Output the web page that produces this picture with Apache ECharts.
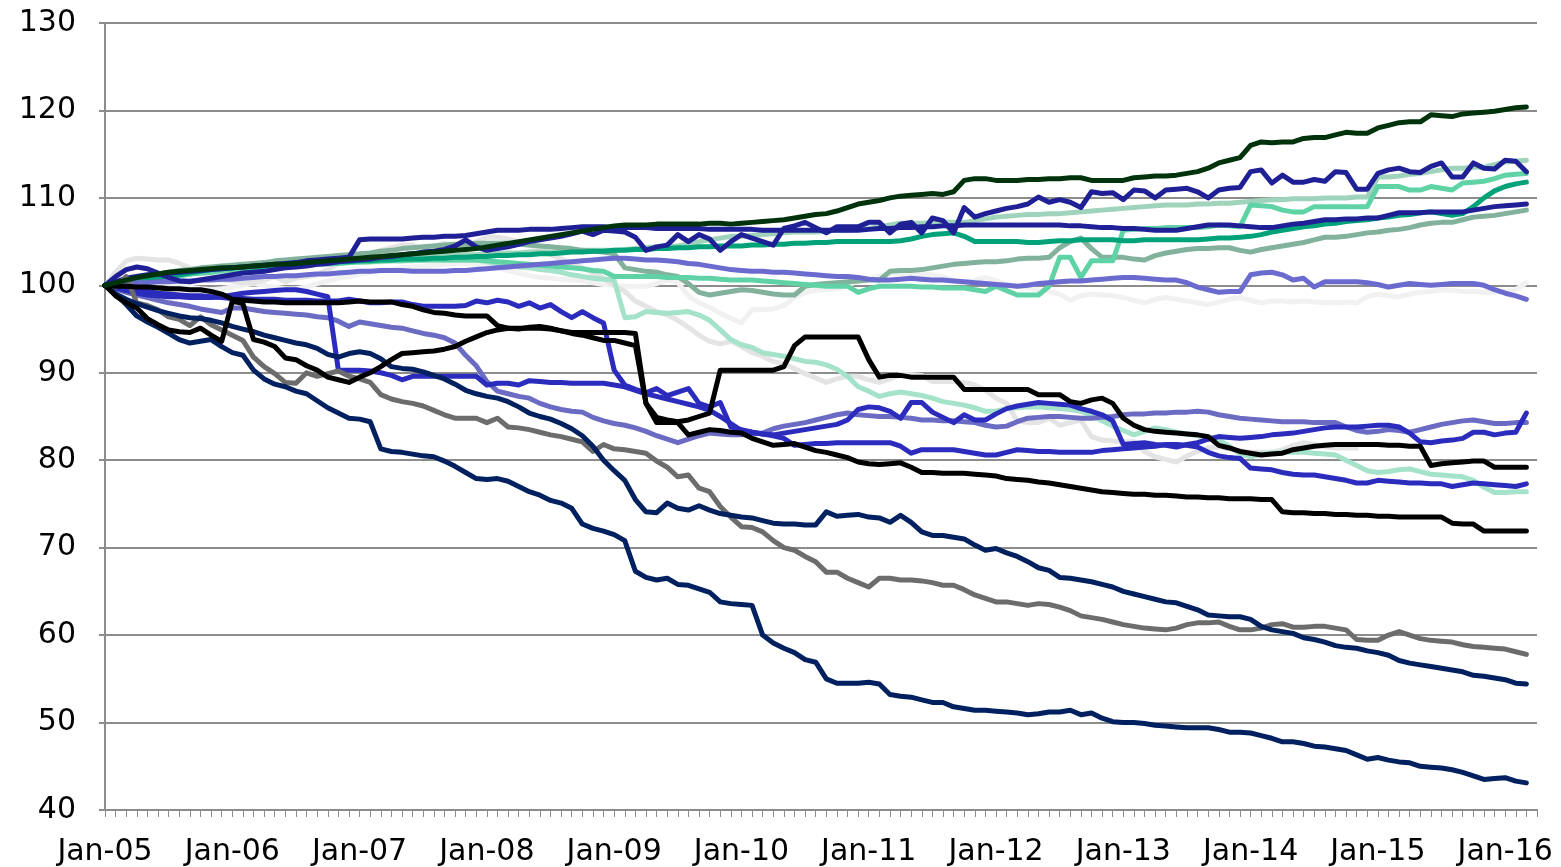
<!DOCTYPE html>
<html><head><meta charset="utf-8">
<script src="https://cdn.jsdelivr.net/npm/echarts@6/dist/echarts.min.js"></script>
<style>html,body{margin:0;padding:0;background:#fff}#c{width:1561px;height:867px}</style>
</head><body><div id="c"></div>
<script>
const MONTHS=["Jan","Feb","Mar","Apr","May","Jun","Jul","Aug","Sep","Oct","Nov","Dec"];
const YEARS=["05","06","07","08","09","10","11","12","13","14","15","16"];
const categories=[];
for(const y of YEARS){for(const m of MONTHS){if(categories.length<136)categories.push(m+"-"+y);}}

const darkGreen=[100,100.3,100.6,100.9,101.1,101.3,101.5,101.6,101.7,101.8,101.9,102.0,
102.0,102.1,102.2,102.3,102.4,102.4,102.5,102.6,102.7,102.8,102.9,103.0,
103.1,103.2,103.3,103.4,103.5,103.6,103.7,103.8,103.9,104.0,104.1,104.2,
104.4,104.6,104.8,105.0,105.2,105.4,105.6,105.8,106.0,106.2,106.4,106.6,
106.8,106.9,106.9,106.9,107.0,107.0,107.0,107.0,107.0,107.1,107.1,107.0,
107.1,107.2,107.3,107.4,107.5,107.7,107.9,108.1,108.2,108.5,108.9,109.3,
109.5,109.7,110.0,110.2,110.3,110.4,110.5,110.4,110.7,112.0,112.2,112.2,
112.0,112.0,112.0,112.1,112.1,112.2,112.2,112.3,112.3,112.0,112.0,112.0,
112.0,112.3,112.4,112.5,112.5,112.6,112.8,113.0,113.4,114.0,114.3,114.6,
116.0,116.4,116.3,116.4,116.4,116.8,116.9,116.9,117.2,117.5,117.4,117.4,
118.0,118.3,118.6,118.7,118.7,119.5,119.4,119.3,119.6,119.7,119.8,119.9,
120.1,120.3,120.4];

const indigoZig=[100,101.0,101.8,102.1,101.9,101.4,100.9,100.5,100.4,100.6,100.8,101.0,
101.2,101.4,101.5,101.6,101.8,102.0,102.1,102.2,102.4,102.5,102.7,102.8,
102.9,103.0,103.2,103.3,103.5,103.6,103.8,103.9,104.1,104.5,105.2,104.4,
104.0,104.2,104.4,104.7,105.0,105.2,105.4,105.6,105.9,106.2,105.8,106.3,
106.2,106.1,105.5,104.0,104.4,104.6,105.8,105.0,105.8,105.3,104.0,105.0,
105.8,105.4,105.0,104.6,106.5,106.8,107.2,106.6,106.0,106.7,106.7,106.7,
107.2,107.2,106.0,107.0,107.2,106.0,107.7,107.4,106.0,108.9,107.8,108.2,
108.5,108.8,109.0,109.3,110.1,109.5,109.8,109.5,108.9,110.7,110.5,110.6,
109.8,110.9,110.8,110.0,110.9,111.0,111.1,110.7,110.0,110.9,111.1,111.2,
113.0,113.2,111.7,112.6,111.8,111.8,112.1,111.9,113.0,112.9,111.0,111.0,
112.8,113.2,113.4,113.0,112.9,113.6,114.0,112.4,112.4,114.0,113.4,113.3,
114.3,114.2,113.0];

const indigoSmooth=[100,100.4,100.8,101.0,101.2,101.3,101.4,101.5,101.6,101.7,101.8,101.9,
102.0,102.1,102.2,102.3,102.4,102.5,102.6,102.8,102.9,103.0,103.1,103.2,
105.2,105.3,105.3,105.3,105.3,105.4,105.5,105.5,105.6,105.6,105.7,105.9,
106.1,106.3,106.3,106.3,106.4,106.4,106.4,106.5,106.6,106.7,106.7,106.7,
106.6,106.6,106.6,106.6,106.5,106.5,106.5,106.5,106.5,106.4,106.4,106.4,
106.4,106.4,106.3,106.3,106.3,106.3,106.3,106.3,106.3,106.3,106.3,106.3,
106.4,106.5,106.5,106.6,106.6,106.7,106.7,106.8,106.8,106.9,106.9,106.9,
106.9,106.9,106.9,106.9,106.9,106.9,106.9,106.8,106.8,106.7,106.6,106.6,
106.5,106.5,106.4,106.3,106.3,106.3,106.5,106.7,106.9,106.9,106.9,106.8,
106.7,106.6,106.6,106.8,107.0,107.1,107.3,107.5,107.5,107.6,107.6,107.7,
107.7,108.0,108.3,108.3,108.3,108.4,108.4,108.4,108.4,108.6,108.8,109.0,
109.1,109.2,109.3];

const teal=[100,100.2,100.4,100.6,100.8,100.9,101.0,101.2,101.4,101.6,101.8,101.9,
102.0,102.1,102.1,102.2,102.3,102.3,102.4,102.5,102.5,102.6,102.7,102.7,
102.8,102.8,102.9,102.9,103.0,103.0,103.0,103.1,103.1,103.2,103.2,103.3,
103.3,103.4,103.4,103.5,103.5,103.6,103.6,103.7,103.8,103.8,103.9,103.9,
104.0,104.0,104.1,104.1,104.2,104.2,104.3,104.3,104.4,104.4,104.5,104.5,
104.5,104.6,104.6,104.7,104.7,104.8,104.8,104.9,104.9,105.0,105.0,105.0,
105.0,105.0,105.0,105.1,105.3,105.6,105.8,105.9,106.0,105.6,105.0,105.0,
105.0,105.0,105.0,104.9,104.9,105.0,105.1,105.1,105.2,105.2,105.2,105.2,
105.1,105.1,105.2,105.2,105.2,105.2,105.2,105.2,105.3,105.4,105.4,105.5,
105.6,105.8,106.1,106.3,106.5,106.7,106.8,107.0,107.1,107.3,107.4,107.5,
107.7,107.8,108.0,108.1,108.3,108.4,108.2,108.0,108.2,109.0,110.0,110.8,
111.3,111.6,111.8];

const mint=[100,100.2,100.4,100.6,100.7,100.9,101.0,101.1,101.3,101.4,101.5,101.7,
101.8,101.9,102.0,102.1,102.1,102.2,102.3,102.3,102.4,102.5,102.5,102.6,
102.7,102.7,102.8,102.8,102.8,102.9,102.9,102.9,102.9,102.9,102.9,102.9,
102.8,102.7,102.6,102.5,102.4,102.3,102.2,102.1,102.0,101.9,101.7,101.6,
101.0,101.0,101.0,101.0,101.0,100.9,100.9,100.9,100.8,100.8,100.7,100.6,
100.6,100.6,100.5,100.4,100.3,100.2,100.1,100.0,99.9,99.9,99.9,99.2,
99.6,99.9,99.9,99.9,99.9,99.8,99.8,99.7,99.7,99.7,99.5,99.3,
99.9,99.4,98.9,98.9,98.9,99.9,103.2,103.2,100.9,102.8,102.8,102.8,
106.3,106.4,106.5,106.5,106.6,106.6,106.6,106.6,106.7,106.9,106.8,106.7,
109.2,109.1,109.0,108.6,108.4,108.4,109.0,109.0,109.0,109.0,109.0,109.0,
111.3,111.3,111.3,110.9,110.9,111.3,111.1,110.9,111.7,111.8,111.9,112.2,
112.6,112.7,112.8];

const paleGreen=[100,100.2,100.4,100.6,100.8,100.9,101.0,101.2,101.3,101.5,101.6,101.8,
101.9,102.0,102.1,102.2,102.3,102.4,102.5,102.6,102.7,102.7,102.8,102.9,
103.0,103.0,103.1,103.1,103.2,103.2,103.3,103.3,103.4,103.4,103.5,103.5,
103.6,103.6,103.7,103.7,103.8,103.8,103.8,103.9,103.9,104.0,104.0,104.0,
104.0,104.1,104.2,104.3,104.4,104.4,104.5,104.7,105.0,105.2,105.4,105.6,
105.6,105.7,105.8,105.9,106.0,106.1,106.1,106.1,106.2,106.3,106.3,106.4,
106.5,106.7,106.9,107.1,107.1,107.1,107.2,107.2,107.2,107.2,107.4,107.6,
107.8,107.9,108.0,108.1,108.1,108.2,108.2,108.3,108.4,108.5,108.6,108.7,
108.8,108.9,109.0,109.1,109.2,109.2,109.2,109.3,109.3,109.4,109.4,109.5,
109.6,109.7,109.8,109.8,109.9,109.9,109.9,110.0,110.0,110.0,110.1,110.1,
112.4,112.4,112.5,112.7,112.8,113.0,113.2,113.4,113.4,113.5,113.5,113.8,
114.1,114.2,114.3];

const grayGreen=[100,100.3,100.6,100.9,101.1,101.3,101.5,101.7,101.8,102.0,102.1,102.2,
102.3,102.4,102.5,102.6,102.8,102.9,103.0,103.1,103.2,103.3,103.4,103.5,
103.6,103.7,103.9,104.0,104.2,104.3,104.4,104.5,104.6,104.7,104.7,104.8,
104.8,104.8,104.8,104.7,104.6,104.5,104.4,104.3,104.2,104.0,103.9,103.8,
103.6,102.0,101.8,101.6,101.5,101.2,101.0,100.2,99.2,98.9,99.1,99.3,
99.5,99.4,99.2,99.0,98.9,98.9,99.9,100.1,100.2,100.3,100.4,100.5,
100.6,100.6,101.6,101.7,101.7,101.8,102.0,102.2,102.4,102.5,102.6,102.7,
102.7,102.8,103.0,103.1,103.1,103.2,104.3,105.0,105.4,104.2,103.2,103.2,
103.2,103.0,102.9,103.4,103.7,103.9,104.1,104.2,104.2,104.3,104.3,104.0,
103.8,104.1,104.3,104.5,104.7,104.9,105.2,105.5,105.5,105.6,105.8,106.0,
106.1,106.3,106.4,106.6,106.9,107.1,107.2,107.2,107.5,107.8,107.9,108.0,
108.2,108.4,108.6];

const lightMint=[100,100.2,100.4,100.6,100.8,100.9,101.0,101.1,101.3,101.4,101.5,101.6,
101.7,101.8,101.9,102.0,102.0,102.1,102.2,102.3,102.4,102.4,102.5,102.6,
102.6,102.7,102.7,102.8,102.8,102.8,102.9,102.9,102.9,102.9,102.9,102.9,
102.7,102.5,102.3,102.1,102.0,101.8,101.7,101.5,101.2,101.0,100.8,100.7,
100.6,96.3,96.4,97.0,96.9,96.8,96.9,97.0,96.6,96.0,94.9,93.8,
93.2,92.9,92.3,92.1,91.9,91.6,91.3,91.2,90.9,90.4,89.6,88.4,
87.9,87.3,87.6,87.8,87.6,87.4,87.1,86.7,86.5,86.3,86.0,85.6,
85.6,85.9,86.0,86.1,86.1,86.0,85.9,85.8,85.6,85.2,84.5,83.9,
83.4,82.9,83.3,83.7,83.5,83.2,83.0,82.8,82.7,82.3,81.6,80.7,
80.4,80.7,80.8,80.9,80.9,80.9,80.8,80.7,80.6,80.0,79.4,78.8,
78.6,78.7,78.9,79.0,78.7,78.4,78.3,78.2,78.1,77.7,76.9,76.3,
76.3,76.4,76.4];

const lightGray=[100,101.5,102.8,103.1,103.0,102.9,102.9,102.5,102.0,101.4,101.0,100.6,
100.5,100.3,100.3,100.6,101.0,100.4,100.8,101.0,101.2,101.8,102.5,103.0,
103.3,103.6,104.0,104.3,104.6,104.6,104.0,104.5,104.8,104.5,104.3,105.0,
105.5,105.5,105.3,105.0,104.6,104.2,103.5,103.0,102.5,102.0,101.4,100.8,
100.0,99.3,98.2,97.6,97.0,96.6,96.0,95.2,94.3,93.6,93.3,93.6,
93.0,92.3,91.9,91.3,91.0,90.5,89.9,89.4,88.9,89.3,89.6,89.6,
89.2,88.9,89.3,89.8,89.8,89.7,89.0,89.0,89.0,88.9,88.6,88.0,
87.1,86.5,84.5,84.3,84.3,84.8,84.0,84.3,84.6,82.7,82.3,82.2,
82.1,82.1,81.0,80.4,80.1,79.8,80.5,81.0,81.4,81.5,81.3,81.1,
80.9,80.9,80.9,81.2,81.7,82.0,81.8,81.5,81.4,81.4,81.4];

const whitish=[100,100.5,101.0,101.2,100.8,100.4,100.2,100.0,99.8,99.6,99.5,99.6,
99.8,100.0,100.2,100.0,99.8,99.6,99.6,99.8,100.2,100.5,100.8,101.0,
101.3,101.5,101.7,101.8,102.0,102.1,102.2,102.3,102.4,102.5,102.5,102.4,
102.2,102.0,101.7,101.4,101.1,100.9,100.8,100.7,100.6,100.5,100.3,100.1,
100.0,99.9,99.9,99.9,100.2,100.6,100.3,98.8,98.0,97.5,96.8,96.2,
95.7,97.2,97.2,97.3,97.7,98.6,99.2,99.4,99.5,99.6,100.0,100.5,
100.8,101.0,101.4,101.3,101.2,101.2,101.2,101.0,100.6,100.3,100.6,100.9,
100.5,100.1,99.9,99.7,99.5,99.3,99.0,98.3,98.8,99.0,98.9,98.8,
98.6,98.3,98.0,98.4,98.6,98.4,98.2,98.0,97.8,98.1,98.4,98.6,
98.3,98.0,98.2,98.2,98.1,98.2,98.1,98.0,98.0,98.1,98.0,98.7,
99.0,98.8,98.7,99.0,99.2,99.3,99.5,99.4,99.3,99.3,99.2,99.2,
99.3,99.5,100.3];

const blackA=[100,98.8,98.0,97.4,96.2,95.5,94.9,94.7,94.6,95.1,94.3,93.6,
98.2,97.9,93.8,93.5,93.0,91.7,91.5,90.8,90.3,89.5,89.2,88.9,
89.5,90.0,90.7,91.5,92.2,92.3,92.4,92.5,92.7,93.0,93.6,94.1,
94.6,94.9,95.1,95.0,95.2,95.3,95.1,94.8,94.6,94.6,94.6,94.6,
94.6,94.6,94.5,86.5,84.9,84.6,84.4,84.6,85.0,85.4,90.3,90.3,
90.3,90.3,90.3,90.3,90.7,93.1,94.1,94.1,94.1,94.1,94.1,94.1,
91.5,89.5,89.7,89.7,89.5,89.5,89.5,89.5,89.5,88.1,88.1,88.1,
88.1,88.1,88.1,88.1,87.5,87.5,87.5,86.7,86.5,86.9,87.1,86.5,
84.8,84.0,83.5,83.3,83.2,83.1,83.0,82.9,82.7,81.7,81.4,81.0,
80.8,80.6,80.7,80.8,81.2,81.4,81.6,81.7,81.8,81.8,81.8,81.8,
81.8,81.7,81.7,81.6,81.6,79.4,79.6,79.7,79.8,79.9,79.9,79.2,
79.2,79.2,79.2];

const blackB=[100,99.9,99.9,99.8,99.8,99.7,99.6,99.6,99.5,99.5,99.3,99.0,
98.4,98.3,98.2,98.1,98.1,98.0,98.0,98.0,98.0,98.0,98.0,98.1,
98.2,98.1,98.1,98.1,97.8,97.6,97.2,96.9,96.8,96.6,96.5,96.5,
96.5,95.4,95.1,95.1,95.1,95.1,95.0,94.8,94.5,94.3,94.0,93.7,
93.7,93.4,93.1,86.5,84.3,84.3,84.3,82.9,83.2,83.5,83.4,83.2,
83.1,82.5,82.1,81.7,81.8,81.9,81.5,81.1,80.9,80.6,80.3,79.8,
79.6,79.5,79.6,79.7,79.2,78.6,78.6,78.5,78.5,78.5,78.4,78.3,
78.2,77.9,77.8,77.7,77.5,77.4,77.2,77.0,76.8,76.6,76.4,76.3,
76.2,76.1,76.1,76.0,76.0,75.9,75.8,75.8,75.7,75.7,75.6,75.6,
75.6,75.5,75.5,74.1,74.0,74.0,73.9,73.9,73.8,73.8,73.7,73.7,
73.6,73.6,73.5,73.5,73.5,73.5,73.5,72.8,72.7,72.7,71.9,71.9,
71.9,71.9,71.9];

const gray=[100,99.8,101.0,98.0,97.7,97.2,96.4,96.1,95.4,96.4,95.5,94.9,
94.3,93.7,91.8,90.7,89.9,88.9,88.8,90.0,89.6,89.9,90.2,89.6,
89.3,88.9,87.5,87.0,86.7,86.5,86.2,85.7,85.2,84.8,84.8,84.8,
84.3,84.8,83.8,83.7,83.5,83.2,82.9,82.7,82.4,82.1,81.0,81.8,
81.3,81.2,81.0,80.8,79.9,79.2,78.1,78.3,76.8,76.4,74.7,73.5,
72.4,72.3,71.8,70.8,70.0,69.7,69.0,68.4,67.2,67.2,66.5,66.0,
65.5,66.5,66.5,66.3,66.3,66.2,66.0,65.7,65.7,65.2,64.6,64.2,
63.8,63.8,63.6,63.4,63.6,63.5,63.2,62.8,62.2,62.0,61.8,61.5,
61.2,61.0,60.8,60.7,60.6,60.8,61.2,61.4,61.4,61.5,61.0,60.6,
60.6,60.8,61.2,61.3,60.9,60.9,61.0,61.0,60.8,60.6,59.5,59.4,
59.4,60.0,60.4,60.0,59.6,59.4,59.3,59.2,58.9,58.7,58.6,58.5,
58.4,58.1,57.8];

const navyUpper=[100,99.0,98.4,97.9,97.5,97.1,96.8,96.5,96.3,96.2,96.0,95.7,
95.3,95.0,94.7,94.3,94.0,93.7,93.4,93.2,92.8,92.1,91.8,92.2,
92.4,92.2,91.6,90.7,90.5,90.4,90.1,89.7,89.3,88.7,88.0,87.6,
87.3,87.1,86.7,86.1,85.4,85.0,84.7,84.2,83.6,82.8,81.6,80.0,
78.8,77.7,75.5,74.1,74.0,75.1,74.5,74.3,74.8,74.3,73.9,73.7,
73.5,73.4,73.1,72.8,72.7,72.7,72.6,72.6,74.1,73.6,73.7,73.8,
73.5,73.4,72.9,73.7,72.9,71.8,71.4,71.4,71.2,71.0,70.3,69.7,
69.9,69.4,69.0,68.4,67.7,67.4,66.6,66.5,66.3,66.1,65.8,65.5,
65.0,64.7,64.4,64.1,63.8,63.7,63.3,62.9,62.3,62.2,62.1,62.1,
61.8,61.0,60.6,60.4,60.2,59.7,59.5,59.2,58.8,58.6,58.5,58.2,
58.0,57.7,57.1,56.8,56.6,56.4,56.2,56.0,55.8,55.4,55.3,55.1,
54.9,54.5,54.4];

const navyLower=[100,99.0,97.8,96.5,95.8,95.2,94.5,93.8,93.4,93.6,93.8,93.0,
92.3,92.0,90.3,89.3,88.7,88.4,87.9,87.6,86.8,86.0,85.4,84.8,
84.7,84.4,81.3,81.0,80.9,80.7,80.5,80.4,79.9,79.3,78.6,77.9,
77.8,77.9,77.6,77.0,76.4,76.0,75.4,75.1,74.5,72.7,72.2,71.9,
71.5,70.8,67.3,66.6,66.3,66.5,65.8,65.7,65.3,64.9,63.8,63.6,
63.5,63.4,60.0,59.1,58.5,58.0,57.2,56.9,55.0,54.5,54.5,54.5,
54.6,54.4,53.2,53.0,52.9,52.6,52.3,52.3,51.8,51.6,51.4,51.4,
51.3,51.2,51.1,50.9,51.0,51.2,51.2,51.4,50.9,51.1,50.5,50.1,
50.0,50.0,49.9,49.7,49.6,49.5,49.4,49.4,49.4,49.2,48.9,48.9,
48.8,48.5,48.2,47.8,47.8,47.6,47.3,47.2,47.0,46.8,46.3,45.8,
46.0,45.7,45.5,45.4,45.0,44.9,44.8,44.6,44.3,43.9,43.5,43.6,
43.7,43.3,43.1];

const lavLower=[100,99.6,99.2,98.9,98.6,98.3,98.0,97.8,97.6,97.3,97.1,96.9,
97.4,97.4,97.2,97.0,96.9,96.8,96.7,96.6,96.4,96.3,95.9,95.3,
95.8,95.6,95.4,95.2,95.1,94.8,94.5,94.3,94.0,93.4,92.0,90.8,
89.0,87.9,87.6,87.3,87.1,86.5,86.1,85.8,85.6,85.5,84.9,84.5,
84.2,84.0,83.7,83.3,82.8,82.4,82.0,82.4,82.8,83.1,83.0,82.9,
82.9,83.0,83.1,83.6,83.9,84.1,84.3,84.6,84.9,85.2,85.4,85.2,
85.1,85.0,85.0,84.9,84.8,84.6,84.6,84.5,84.5,84.4,84.3,84.0,
83.8,83.9,84.4,84.8,84.9,85.0,85.0,84.9,84.8,84.8,84.9,85.0,
85.2,85.3,85.3,85.4,85.4,85.5,85.5,85.6,85.5,85.2,85.0,84.8,
84.7,84.6,84.5,84.4,84.4,84.4,84.3,84.3,84.3,83.8,83.4,83.2,
83.3,83.5,83.4,83.2,83.5,83.8,84.1,84.3,84.5,84.6,84.4,84.2,
84.2,84.3,84.3];

const lavUpper=[100,100.1,100.2,100.3,100.3,100.4,100.4,100.5,100.5,100.6,100.6,100.7,
100.7,100.8,100.9,101.0,101.0,101.1,101.1,101.2,101.3,101.3,101.4,101.5,
101.6,101.6,101.7,101.7,101.7,101.6,101.6,101.6,101.6,101.7,101.7,101.8,
101.9,102.0,102.1,102.2,102.3,102.4,102.5,102.6,102.7,102.8,102.9,103.0,
103.1,103.1,103.0,102.9,102.9,102.8,102.7,102.5,102.4,102.2,102.0,101.8,
101.7,101.6,101.6,101.5,101.5,101.4,101.3,101.2,101.1,101.0,101.0,100.9,
100.7,100.6,100.6,100.7,100.8,100.7,100.6,100.6,100.5,100.4,100.3,100.2,
100.1,100.0,99.9,100.0,100.2,100.3,100.4,100.5,100.5,100.6,100.7,100.8,
100.9,100.9,100.8,100.7,100.6,100.6,100.3,99.8,99.5,99.2,99.3,99.3,
101.2,101.4,101.5,101.2,100.6,100.8,99.8,100.4,100.4,100.4,100.4,100.3,
100.1,99.8,100.0,100.2,100.1,100.0,100.1,100.2,100.2,100.2,100.0,99.5,
99.1,98.8,98.4];

const blueA=[100,99.7,99.4,99.1,98.9,98.8,98.7,98.7,98.6,98.6,98.6,98.7,
98.9,99.1,99.2,99.3,99.4,99.5,99.5,99.3,99.0,98.7,90.3,90.3,
90.3,90.2,90.0,89.7,89.2,89.6,89.6,89.6,89.6,89.6,89.6,89.6,
88.6,88.8,88.8,88.6,89.1,89.0,88.9,88.9,88.8,88.8,88.8,88.8,
88.6,88.4,88.0,87.6,87.3,87.0,86.7,86.4,86.1,85.7,85.0,84.2,
83.4,83.2,83.0,82.8,82.5,81.7,81.8,81.9,81.9,82.0,82.0,82.0,
82.0,82.0,82.0,81.6,80.8,81.2,81.2,81.2,81.2,81.0,80.8,80.6,
80.6,80.9,81.2,81.1,81.0,81.0,80.9,80.9,80.9,80.9,81.1,81.2,
81.3,81.4,81.5,81.6,81.8,81.8,81.7,81.5,80.9,80.5,80.3,80.2,
79.1,79.0,78.9,78.6,78.4,78.3,78.3,78.1,77.9,77.7,77.4,77.4,
77.7,77.6,77.5,77.4,77.4,77.3,77.3,77.0,77.2,77.4,77.3,77.2,
77.1,77.0,77.3];

const blueB=[100,99.8,99.6,99.4,99.3,99.1,99.0,98.9,98.8,98.8,98.7,98.6,
98.5,98.5,98.4,98.4,98.4,98.3,98.3,98.3,98.2,98.2,98.2,98.4,
98.2,98.0,98.0,98.1,98.1,97.8,97.6,97.6,97.6,97.6,97.7,98.2,
98.0,98.3,98.1,97.6,98.0,97.4,97.8,97.0,96.3,97.0,96.3,95.7,
90.3,88.6,88.1,87.7,88.2,87.4,87.8,88.2,86.5,86.1,86.6,83.8,
83.5,83.2,83.0,82.9,83.1,83.3,83.5,83.7,83.9,84.1,84.6,85.8,
86.1,86.0,85.6,84.8,86.6,86.6,85.5,84.9,84.3,85.2,84.6,84.6,
85.3,85.9,86.2,86.4,86.6,86.5,86.4,86.3,85.9,85.6,85.2,84.5,
81.8,81.9,82.0,81.8,81.7,81.5,81.8,82.0,82.4,82.7,82.6,82.5,
82.6,82.7,82.9,83.0,83.1,83.3,83.5,83.7,83.8,83.8,83.8,83.9,
84.0,84.0,83.8,83.1,82.1,82.0,82.2,82.3,82.5,83.2,83.2,82.9,
83.1,83.2,85.4];

const SERIES=[
 ["whitish",whitish,"#f1f1f1"],
 ["lightGray",lightGray,"#e4e4e4"],
 ["paleGreen",paleGreen,"#9fd3bb"],
 ["grayGreen",grayGreen,"#82b19c"],
 ["lightMint",lightMint,"#a4e2ca"],
 ["mint",mint,"#5fd3a6"],
 ["teal",teal,"#00a279"],
 ["lavUpper",lavUpper,"#6b6bcf"],
 ["lavLower",lavLower,"#6b6bc4"],
 ["blueA",blueA,"#2b2bbd"],
 ["blueB",blueB,"#2b2bbd"],
 ["indigoSmooth",indigoSmooth,"#1f1f96"],
 ["indigoZig",indigoZig,"#1f1f96"],
 ["gray",gray,"#6c6c6c"],
 ["navyUpper",navyUpper,"#00205f"],
 ["navyLower",navyLower,"#00205f"],
 ["blackB",blackB,"#000000"],
 ["blackA",blackA,"#000000"],
 ["darkGreen",darkGreen,"#00330c"]
];

const chart=echarts.init(document.getElementById('c'),null,{renderer:'canvas'});
const axisGray='#8c8c8c';
chart.setOption({
  animation:false,
  backgroundColor:'#ffffff',
  grid:{left:105,right:24,top:23,bottom:57,containLabel:false},
  xAxis:{type:'category',data:categories,boundaryGap:false,
    axisLine:{lineStyle:{color:axisGray,width:2}},
    axisTick:{show:true,interval:0,length:7,lineStyle:{color:axisGray,width:1}},
    axisLabel:{interval:11,fontSize:30,color:'#000',fontFamily:'DejaVu Sans',margin:27},
    splitLine:{show:false}},
  yAxis:{type:'value',min:40,max:130,interval:10,
    axisLine:{show:true,lineStyle:{color:axisGray,width:2}},
    axisTick:{show:true,length:6,lineStyle:{color:axisGray,width:2}},
    axisLabel:{fontSize:30,color:'#000',fontFamily:'DejaVu Sans',margin:29},
    splitLine:{lineStyle:{color:axisGray,width:2}}},
  series:SERIES.map(([name,data,color])=>({
    name,type:'line',data,showSymbol:false,symbol:'none',
    lineStyle:{color,width:5,cap:'round',join:'round'},
    itemStyle:{color},emphasis:{disabled:true}
  }))
});
</script></body></html>
